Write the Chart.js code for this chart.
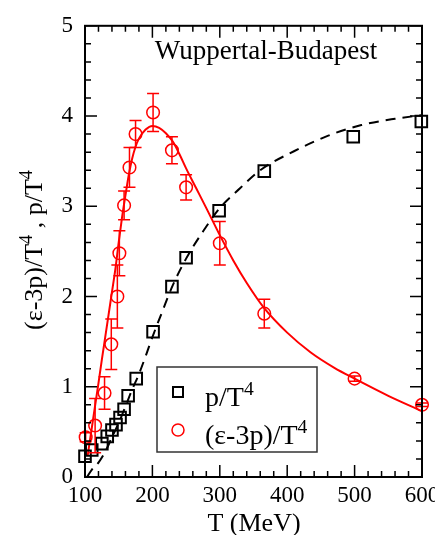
<!DOCTYPE html>
<html>
<head>
<meta charset="utf-8">
<script src="https://cdn.jsdelivr.net/npm/chart.js@4.4.1/dist/chart.umd.min.js"></script>
<style>
  html, body { margin: 0; padding: 0; background: #fff; }
  #wrap { width: 435px; height: 535px; }
</style>
</head>
<body>
<div id="wrap"><canvas id="chart" width="435" height="535"></canvas></div>
<script>
// p/T^4 lattice points
const pTemps  = [100, 110, 125, 133, 140, 146, 152, 158, 164, 176, 201, 229, 250, 299, 366, 498, 599];
const pValues = [0.23, 0.30, 0.37, 0.45, 0.52, 0.58, 0.66, 0.75, 0.90, 1.09, 1.61, 2.11, 2.43, 2.95, 3.39, 3.77, 3.94];

// (e-3p)/T^4 lattice points and their errors
const traceTemps  = [101, 115, 129, 139, 148, 151, 158, 166, 175, 201, 229, 250, 300, 366, 500, 600];
const traceValues = [0.44, 0.57, 0.93, 1.47, 2.00, 2.48, 3.01, 3.43, 3.80, 4.04, 3.62, 3.21, 2.59, 1.81, 1.09, 0.80];
const traceErrors = [0.05, 0.30, 0.18, 0.28, 0.35, 0.25, 0.16, 0.22, 0.15, 0.21, 0.15, 0.14, 0.24, 0.16, 0.03, 0.02];

// solid red fit curve
const traceFitTemps  = [104, 110, 115, 120, 125, 130, 135, 140, 145, 150, 155, 160, 165, 170, 175, 180, 190, 200, 210, 220, 230, 240, 250, 265, 280, 300, 320, 340, 365, 400, 435, 470, 500, 550, 600];
const traceFitValues = [0.24, 0.54, 0.79, 1.04, 1.30, 1.55, 1.80, 2.05, 2.30, 2.60, 2.88, 3.12, 3.35, 3.53, 3.66, 3.75, 3.85, 3.89, 3.87, 3.81, 3.72, 3.58, 3.42, 3.20, 2.98, 2.68, 2.40, 2.15, 1.88, 1.60, 1.38, 1.21, 1.09, 0.90, 0.73];

// dashed black curve for p/T^4
const pFitTemps  = [103, 110, 120, 130, 140, 150, 160, 170, 180, 190, 200, 215, 230, 250, 275, 300, 330, 360, 410, 460, 510, 560, 600];
const pFitValues = [0.00, 0.08, 0.16, 0.28, 0.44, 0.60, 0.78, 0.97, 1.14, 1.34, 1.55, 1.84, 2.12, 2.42, 2.72, 2.98, 3.20, 3.40, 3.61, 3.78, 3.90, 3.97, 4.01];

const SERIF = "'Liberation Serif', 'Times New Roman', serif";
const RED = '#ff0000';

function pts(xs, ys) {
    return xs.map((x, i) => ({ x: x, y: ys[i] }));
}

// text with superscript pieces, e.g. [['p/T'], ['4', true]]
function richWidth(ctx, parts, size) {
    let w = 0;
    parts.forEach(p => {
        ctx.font = (p[1] ? size * 0.7 : size) + 'px ' + SERIF;
        w += ctx.measureText(p[0]).width;
    });
    return w;
}
function drawRich(ctx, parts, x, y, size, align) {
    let cx = x;
    if (align === 'center') cx = x - richWidth(ctx, parts, size) / 2;
    ctx.textBaseline = 'alphabetic';
    ctx.textAlign = 'left';
    parts.forEach(p => {
        ctx.font = (p[1] ? size * 0.7 : size) + 'px ' + SERIF;
        ctx.fillText(p[0], cx, p[1] ? y - size * 0.4 : y);
        cx += ctx.measureText(p[0]).width;
    });
}

const errorBars = {
    id: 'errorBars',
    afterDatasetsDraw(chart) {
        const ctx = chart.ctx;
        const xs = chart.scales.x, ys = chart.scales.y;
        ctx.save();
        ctx.strokeStyle = RED;
        ctx.lineWidth = 1.5;
        traceTemps.forEach((t, i) => {
            const px = xs.getPixelForValue(t);
            const top = ys.getPixelForValue(traceValues[i] + traceErrors[i]);
            const bot = ys.getPixelForValue(traceValues[i] - traceErrors[i]);
            ctx.beginPath();
            ctx.moveTo(px, top); ctx.lineTo(px, bot);
            ctx.moveTo(px - 6, top); ctx.lineTo(px + 6, top);
            ctx.moveTo(px - 6, bot); ctx.lineTo(px + 6, bot);
            ctx.stroke();
        });
        ctx.restore();
    }
};

const frameAndText = {
    id: 'frameAndText',
    afterDraw(chart) {
        const ctx = chart.ctx;
        const a = chart.chartArea;
        const xs = chart.scales.x, ys = chart.scales.y;
        ctx.save();
        ctx.strokeStyle = '#000';
        ctx.lineWidth = 2;
        ctx.strokeRect(a.left, a.top, a.right - a.left, a.bottom - a.top);

        // inward ticks on all four sides
        ctx.lineWidth = 1.5;
        ctx.beginPath();
        for (let v = 100; v <= 600; v += 20) {
            const px = xs.getPixelForValue(v);
            const len = v % 100 === 0 ? 12 : 6;
            ctx.moveTo(px, a.bottom); ctx.lineTo(px, a.bottom - len);
            ctx.moveTo(px, a.top); ctx.lineTo(px, a.top + len);
        }
        for (let k = 0; k <= 25; k++) {
            const py = ys.getPixelForValue(k / 5);
            const len = k % 5 === 0 ? 12 : 6;
            ctx.moveTo(a.left, py); ctx.lineTo(a.left + len, py);
            ctx.moveTo(a.right, py); ctx.lineTo(a.right - len, py);
        }
        ctx.stroke();

        ctx.fillStyle = '#000';
        // inset title
        drawRich(ctx, [['Wuppertal-Budapest']], 266, 59, 27, 'center');

        // axis titles
        drawRich(ctx, [['T (MeV)']], 254, 531, 26, 'center');
        ctx.save();
        ctx.translate(42, 250);
        ctx.rotate(-Math.PI / 2);
        drawRich(ctx, [['(ε-3p)/T'], ['4', true], [' , p/T'], ['4', true]], 0, 0, 26, 'center');
        ctx.restore();

        // legend box
        ctx.strokeStyle = '#333';
        ctx.lineWidth = 1.5;
        ctx.strokeRect(157, 367, 160, 85);
        ctx.strokeStyle = '#000';
        ctx.lineWidth = 2;
        ctx.strokeRect(173, 387, 10, 10);
        drawRich(ctx, [['p/T'], ['4', true]], 205, 406, 28, 'left');
        ctx.strokeStyle = RED;
        ctx.lineWidth = 1.5;
        ctx.beginPath();
        ctx.arc(178, 430, 6, 0, Math.PI * 2);
        ctx.stroke();
        drawRich(ctx, [['(ε-3p)/T'], ['4', true]], 205, 444, 28, 'left');
        ctx.restore();
    }
};

new Chart(document.getElementById('chart').getContext('2d'), {
    type: 'scatter',
    data: {
        datasets: [
            {
                label: 'p/T4',
                data: pts(pTemps, pValues),
                pointStyle: 'rect',
                pointRadius: 8.2,
                pointBorderWidth: 2,
                borderColor: '#000',
                backgroundColor: 'rgba(0,0,0,0)',
                showLine: false,
                clip: false
            },
            {
                label: '(e-3p)/T4',
                data: pts(traceTemps, traceValues),
                pointStyle: 'circle',
                pointRadius: 6.3,
                pointBorderWidth: 1.5,
                borderColor: RED,
                backgroundColor: 'rgba(0,0,0,0)',
                showLine: false,
                clip: false
            },
            {
                label: 'fit',
                data: pts(traceFitTemps, traceFitValues),
                showLine: true,
                pointRadius: 0,
                borderColor: RED,
                borderWidth: 2,
                cubicInterpolationMode: 'monotone'
            },
            {
                label: 'p fit',
                data: pts(pFitTemps, pFitValues),
                showLine: true,
                pointRadius: 0,
                borderColor: '#000',
                borderWidth: 2,
                borderDash: [10, 7],
                cubicInterpolationMode: 'monotone'
            }
        ]
    },
    options: {
        responsive: false,
        animation: false,
        layout: { padding: { top: 15, right: 13, left: 0, bottom: 0 } },
        plugins: { legend: { display: false }, tooltip: { enabled: false } },
        scales: {
            x: {
                type: 'linear',
                min: 100,
                max: 600,
                grid: { display: false, drawTicks: false },
                border: { display: false },
                ticks: { stepSize: 100, color: '#000', padding: 5, font: { family: SERIF, size: 23 } },
                afterFit(s) { s.height = 58; s.paddingLeft = 0; s.paddingRight = 0; }
            },
            y: {
                min: 0,
                max: 5,
                grid: { display: false, drawTicks: false },
                border: { display: false },
                ticks: { stepSize: 1, color: '#000', padding: 12, font: { family: SERIF, size: 23 } },
                afterFit(s) { s.width = 85; }
            }
        }
    },
    plugins: [errorBars, frameAndText]
});
</script>
</body>
</html>
